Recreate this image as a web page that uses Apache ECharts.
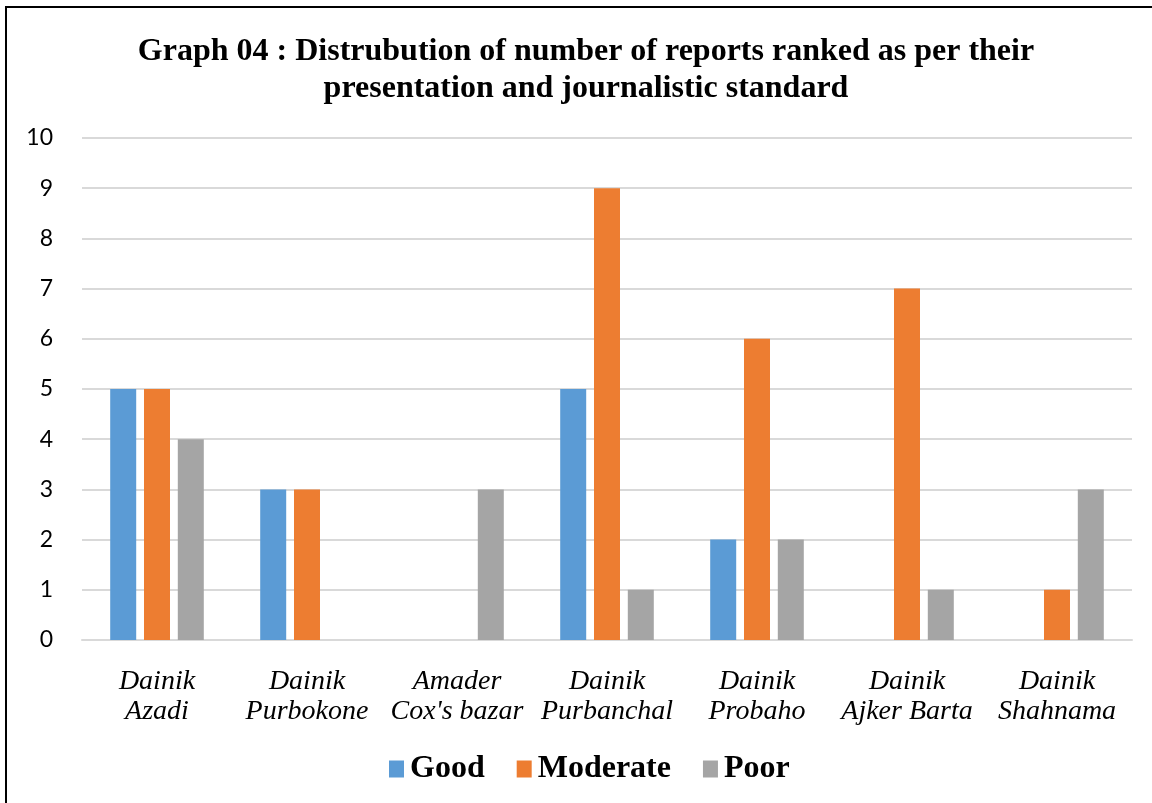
<!DOCTYPE html>
<html>
<head>
<meta charset="utf-8">
<script src="https://cdn.jsdelivr.net/npm/echarts@6/dist/echarts.min.js"></script>
<style>
html,body{margin:0;padding:0;background:#fff;overflow:hidden;}
#frame{position:absolute;left:5px;top:6px;width:1170px;height:820px;border:2px solid #000;box-sizing:border-box;}
#chart{position:absolute;left:0;top:0;width:1152px;height:803px;}
</style>
</head>
<body>
<div id="frame"></div>
<div id="chart"></div>
<script>
const titleText = 'Graph 04 : Distrubution of number of reports ranked as per their\npresentation and journalistic standard';
const categories = ['Dainik\nAzadi', 'Dainik\nPurbokone', 'Amader\nCox\'s bazar', 'Dainik\nPurbanchal', 'Dainik\nProbaho', 'Dainik\nAjker Barta', 'Dainik\nShahnama'];
const seriesNames = ['Good', 'Moderate', 'Poor'];
const good = [5, 3, 0, 5, 2, 0, 0];
const moderate = [5, 3, 0, 9, 6, 7, 1];
const poor = [4, 0, 3, 1, 2, 1, 3];
const colors = ['#5b9bd5', '#ed7d31', '#a5a5a5'];

const chart = echarts.init(document.getElementById('chart'), null, {renderer: 'canvas'});
const values = [good, moderate, poor];
chart.setOption({
  animation: false,
  backgroundColor: 'transparent',
  title: {
    text: titleText,
    left: 581,
    textAlign: 'center',
    top: 28,
    textStyle: {fontFamily: 'Liberation Serif', fontWeight: 'bold', fontSize: 32, lineHeight: 37, color: '#000'}
  },
  legend: {
    data: seriesNames,
    left: 384,
    top: 748,
    itemWidth: 15,
    itemHeight: 17,
    itemGap: 32,
    icon: 'rect',
    textStyle: {fontFamily: 'Liberation Serif', fontWeight: 'bold', fontSize: 32, color: '#000', padding: [0, 0, 0, 1]}
  },
  grid: {left: 82, right: 20, top: 138, bottom: 163, containLabel: false},
  xAxis: {
    type: 'category',
    data: categories,
    axisLine: {show: true, lineStyle: {color: '#d9d9d9', width: 2}},
    axisTick: {show: false},
    axisLabel: {fontFamily: 'Liberation Serif', fontStyle: 'italic', fontSize: 28, lineHeight: 30, color: '#000', margin: 27, interval: 0}
  },
  yAxis: {
    type: 'value',
    min: 0, max: 10, interval: 1,
    axisLine: {show: false},
    axisTick: {show: false},
    splitLine: {lineStyle: {color: '#d9d9d9', width: 2}},
    axisLabel: {fontFamily: 'Lato', fontSize: 23, color: '#000', margin: 29}
  },
  series: seriesNames.map((n, i) => ({
    name: n,
    type: 'bar',
    data: values[i],
    barWidth: 26,
    barGap: '30%',
    itemStyle: {color: colors[i]}
  }))
});
</script>
</body>
</html>
